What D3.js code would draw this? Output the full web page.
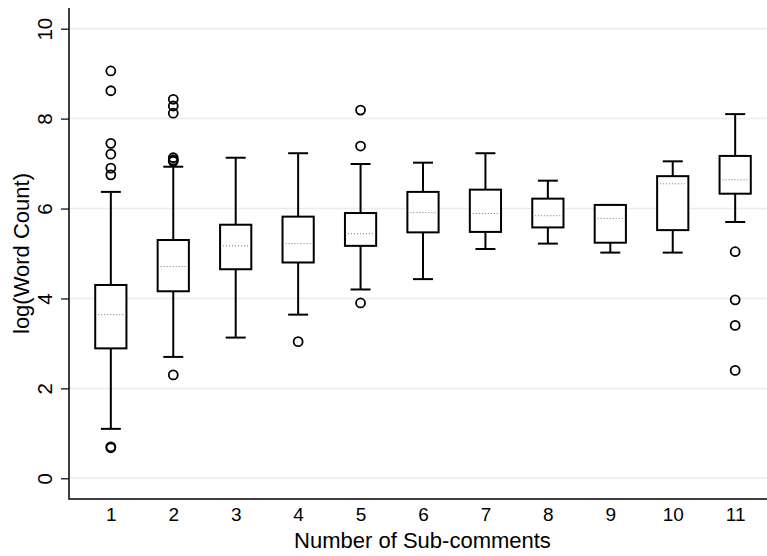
<!DOCTYPE html>
<html>
<head>
<meta charset="utf-8">
<script src="https://cdn.jsdelivr.net/npm/d3@7"></script>
<style>
  body { margin: 0; background: #fff; }
  svg { display: block; font-family: "Liberation Sans", Arial, sans-serif; }
</style>
</head>
<body>
<svg id="chart" width="767" height="556"></svg>
<script>
// values
var categories = [1, 2, 3, 4, 5, 6, 7, 8, 9, 10, 11];
var whiskerLow  = [1.10, 2.70, 3.13, 3.64, 4.20, 4.43, 5.10, 5.22, 5.02, 5.02, 5.70];
var q1          = [2.89, 4.16, 4.65, 4.80, 5.17, 5.47, 5.48, 5.58, 5.24, 5.52, 6.33];
var medians     = [3.64, 4.71, 5.17, 5.22, 5.44, 5.91, 5.89, 5.84, 5.78, 6.55, 6.64];
var q3          = [4.30, 5.30, 5.64, 5.82, 5.90, 6.37, 6.42, 6.22, 6.08, 6.72, 7.17];
var whiskerHigh = [6.37, 6.93, 7.13, 7.23, 6.99, 7.02, 7.23, 6.62, 6.08, 7.05, 8.10];
var outliers = [
  [9.06, 8.62, 7.45, 7.21, 6.90, 6.75, 0.70, 0.68],
  [8.43, 8.28, 8.12, 7.13, 7.08, 7.05, 2.30],
  [],
  [3.04],
  [8.19, 7.39, 3.90],
  [], [], [], [], [],
  [5.04, 3.97, 3.40, 2.40]
];
var yTicks = [0, 2, 4, 6, 8, 10];

var svg = d3.select("#chart");
var margin = {top: 8, right: -10, bottom: 57, left: 69};
var width = 767, height = 556;

var x = d3.scaleLinear()
    .domain([0.33, 11.67])
    .range([margin.left, width - margin.right]);
var y = d3.scaleLinear()
    .domain([-0.46, 10.46])
    .range([height - margin.bottom, margin.top]);

var step = x(2) - x(1);
var boxW = step * 0.5;
var capW = step * 0.32;

// gridlines
svg.append("g")
  .selectAll("line")
  .data(yTicks)
  .join("line")
    .attr("x1", margin.left)
    .attr("x2", width)
    .attr("y1", d => y(d))
    .attr("y2", d => y(d))
    .attr("stroke", "#ececec")
    .attr("stroke-width", 1.5);

// y axis
var yAxis = svg.append("g")
    .attr("transform", "translate(" + margin.left + ",0)")
    .call(d3.axisLeft(y).tickValues(yTicks).tickSize(8).tickPadding(0).tickFormat(d3.format("d")));
yAxis.select(".domain").remove();
yAxis.selectAll(".tick line").attr("stroke", "#000").attr("stroke-width", 1.2);
yAxis.selectAll(".tick text")
    .attr("transform", "rotate(-90)")
    .attr("x", 0).attr("y", -24)
    .attr("dy", "0.35em")
    .attr("text-anchor", "middle")
    .attr("font-size", "20.5px")
    .attr("fill", "#000");

// x axis labels
var xAxis = svg.append("g")
    .attr("transform", "translate(0," + (height - margin.bottom) + ")")
    .call(d3.axisBottom(x).tickValues(categories).tickSize(0).tickPadding(9).tickFormat(d3.format("d")));
xAxis.select(".domain").remove();
xAxis.selectAll(".tick text").attr("font-size", "19px").attr("fill", "#000");

// plot frame (left + bottom)
svg.append("path")
    .attr("d", "M" + margin.left + "," + margin.top + "V" + (height - margin.bottom) + "H" + width)
    .attr("fill", "none")
    .attr("stroke", "#000")
    .attr("stroke-width", 1.5);

// boxes
var boxes = svg.append("g")
  .selectAll("g")
  .data(categories)
  .join("g");

boxes.append("line")
    .attr("x1", d => x(d)).attr("x2", d => x(d))
    .attr("y1", (d, i) => y(whiskerHigh[i])).attr("y2", (d, i) => y(q3[i]))
    .attr("stroke", "#000").attr("stroke-width", 2);
boxes.append("line")
    .attr("x1", d => x(d)).attr("x2", d => x(d))
    .attr("y1", (d, i) => y(q1[i])).attr("y2", (d, i) => y(whiskerLow[i]))
    .attr("stroke", "#000").attr("stroke-width", 2);
boxes.append("line")
    .attr("x1", d => x(d) - capW / 2).attr("x2", d => x(d) + capW / 2)
    .attr("y1", (d, i) => y(whiskerHigh[i])).attr("y2", (d, i) => y(whiskerHigh[i]))
    .attr("stroke", "#000").attr("stroke-width", 2);
boxes.append("line")
    .attr("x1", d => x(d) - capW / 2).attr("x2", d => x(d) + capW / 2)
    .attr("y1", (d, i) => y(whiskerLow[i])).attr("y2", (d, i) => y(whiskerLow[i]))
    .attr("stroke", "#000").attr("stroke-width", 2);
boxes.append("rect")
    .attr("x", d => x(d) - boxW / 2)
    .attr("width", boxW)
    .attr("y", (d, i) => y(q3[i]))
    .attr("height", (d, i) => y(q1[i]) - y(q3[i]))
    .attr("fill", "#fff")
    .attr("stroke", "#000").attr("stroke-width", 2);
boxes.append("line")
    .attr("x1", d => x(d) - boxW / 2 + 3).attr("x2", d => x(d) + boxW / 2 - 2)
    .attr("y1", (d, i) => y(medians[i])).attr("y2", (d, i) => y(medians[i]))
    .attr("stroke", "#777").attr("stroke-width", 1)
    .attr("stroke-dasharray", "1,2");

boxes.selectAll("circle")
  .data((d, i) => outliers[i].map(v => ({c: d, v: v})))
  .join("circle")
    .attr("cx", o => x(o.c))
    .attr("cy", o => y(o.v))
    .attr("r", 4.5)
    .attr("fill", "none")
    .attr("stroke", "#000")
    .attr("stroke-width", 1.8);

// axis titles
svg.append("text")
    .attr("transform", "translate(28.5," + ((margin.top + height - margin.bottom) / 2) + ") rotate(-90)")
    .attr("text-anchor", "middle")
    .attr("font-size", "22px")
    .text("log(Word Count)");

svg.append("text")
    .attr("x", 422.5)
    .attr("y", 548)
    .attr("text-anchor", "middle")
    .attr("font-size", "22px")
    .text("Number of Sub-comments");
</script>
</body>
</html>
